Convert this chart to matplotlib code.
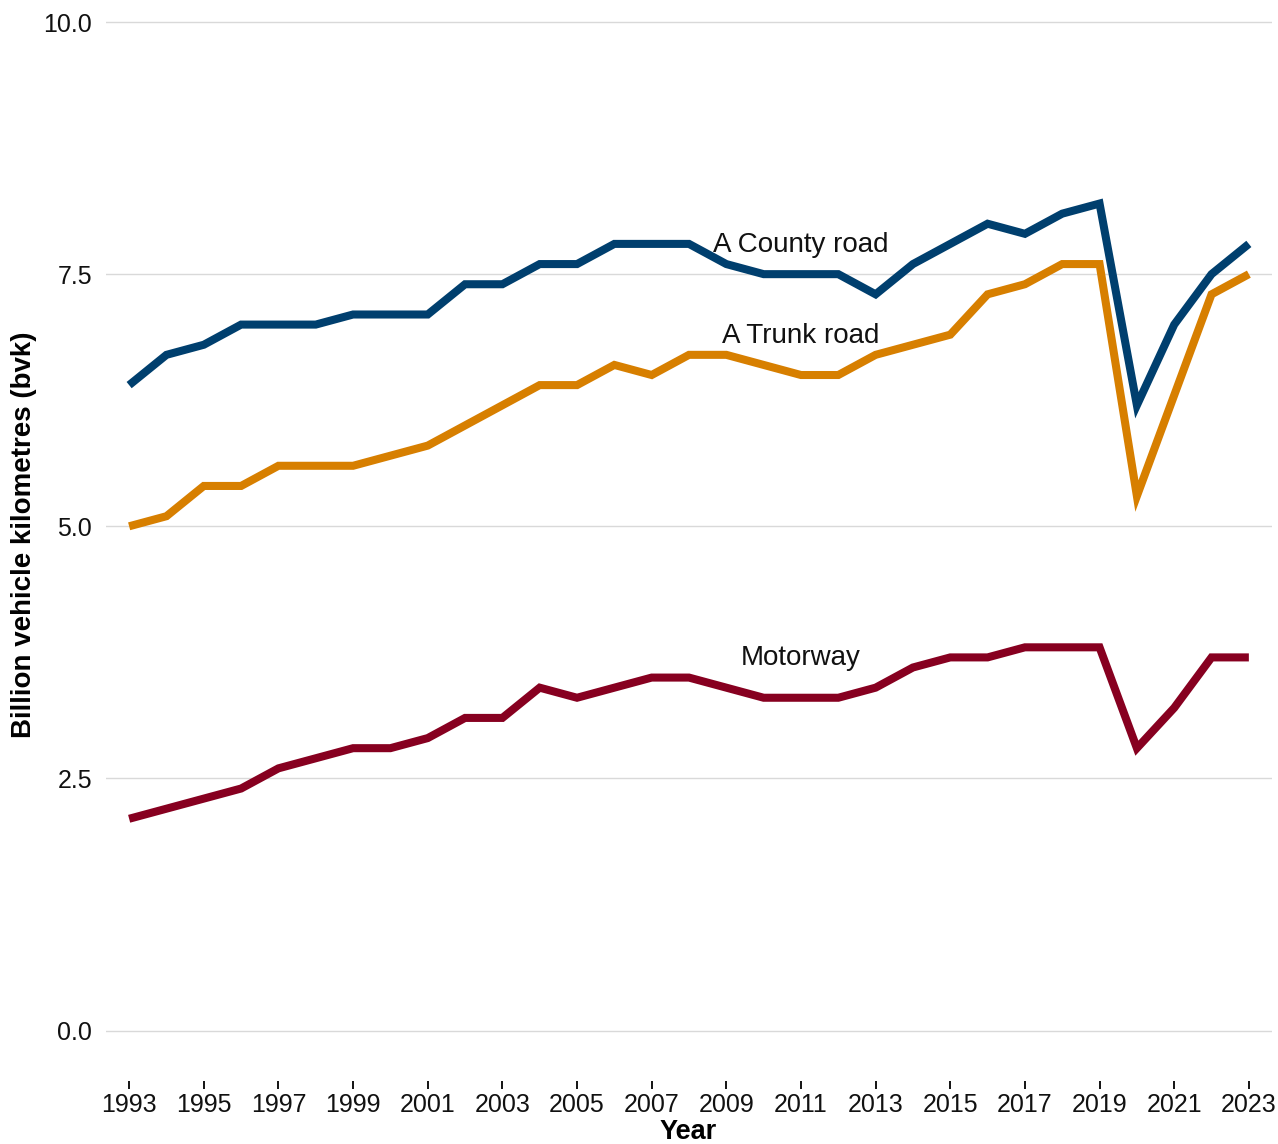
import matplotlib.pyplot as plt

plt.rcParams['font.family'] = ['Liberation Sans', 'DejaVu Sans']

years = list(range(1993, 2024))
county_road = [6.4, 6.7, 6.8, 7.0, 7.0, 7.0, 7.1, 7.1, 7.1, 7.4, 7.4, 7.6, 7.6, 7.8, 7.8, 7.8,
               7.6, 7.5, 7.5, 7.5, 7.3, 7.6, 7.8, 8.0, 7.9, 8.1, 8.2, 6.2, 7.0, 7.5, 7.8]
trunk_road = [5.0, 5.1, 5.4, 5.4, 5.6, 5.6, 5.6, 5.7, 5.8, 6.0, 6.2, 6.4, 6.4, 6.6, 6.5, 6.7,
              6.7, 6.6, 6.5, 6.5, 6.7, 6.8, 6.9, 7.3, 7.4, 7.6, 7.6, 5.3, 6.3, 7.3, 7.5]
motorway = [2.1, 2.2, 2.3, 2.4, 2.6, 2.7, 2.8, 2.8, 2.9, 3.1, 3.1, 3.4, 3.3, 3.4, 3.5, 3.5,
            3.4, 3.3, 3.3, 3.3, 3.4, 3.6, 3.7, 3.7, 3.8, 3.8, 3.8, 2.8, 3.2, 3.7, 3.7]

series = [
    ("A County road", county_road, "#003f6e", 7.79),
    ("A Trunk road", trunk_road, "#d77f00", 6.89),
    ("Motorway", motorway, "#870020", 3.69),
]

fig = plt.figure(figsize=(12.78, 11.44), dpi=100)
ax = fig.add_axes([106 / 1278, 1 - 1081 / 1144, (1272 - 106) / 1278, (1081 - 20) / 1144])

for name, vals, color, label_y in series:
    ax.plot(years, vals, color=color, lw=5.8, solid_joinstyle='miter', solid_capstyle='butt')
    ax.text(2011, label_y, name, fontsize=20, ha='center', va='center', color='#111111')

ax.set_xlim(1992.38, 2023.62)
ax.set_ylim(-0.5, 10.02)
ax.set_yticks([0, 2.5, 5.0, 7.5, 10.0])
ax.set_yticklabels(['0.0', '2.5', '5.0', '7.5', '10.0'])
ax.set_xticks(years[::2])
ax.grid(axis='y', color='#d9d9d9', lw=1.0)
ax.set_axisbelow(True)
for s in ax.spines.values():
    s.set_visible(False)
ax.tick_params(axis='y', length=0, labelsize=18, pad=10, labelcolor='#111111')
ax.tick_params(axis='x', length=6, width=1.3, labelsize=18, pad=3, labelcolor='#111111')

ax.set_xlabel('Year', fontsize=19.5, fontweight='bold')
ax.set_ylabel('Billion vehicle kilometres (bvk)', fontsize=20, fontweight='bold')
ax.xaxis.set_label_coords((688 - 106) / 1166, (1081 - 1132) / 1061)
ax.yaxis.set_label_coords(-82 / 1166, (1081 - 535) / 1061)
ax.yaxis.label.set_va('center')
ax.xaxis.label.set_va('center')

fig.savefig('out.png', dpi=100)
